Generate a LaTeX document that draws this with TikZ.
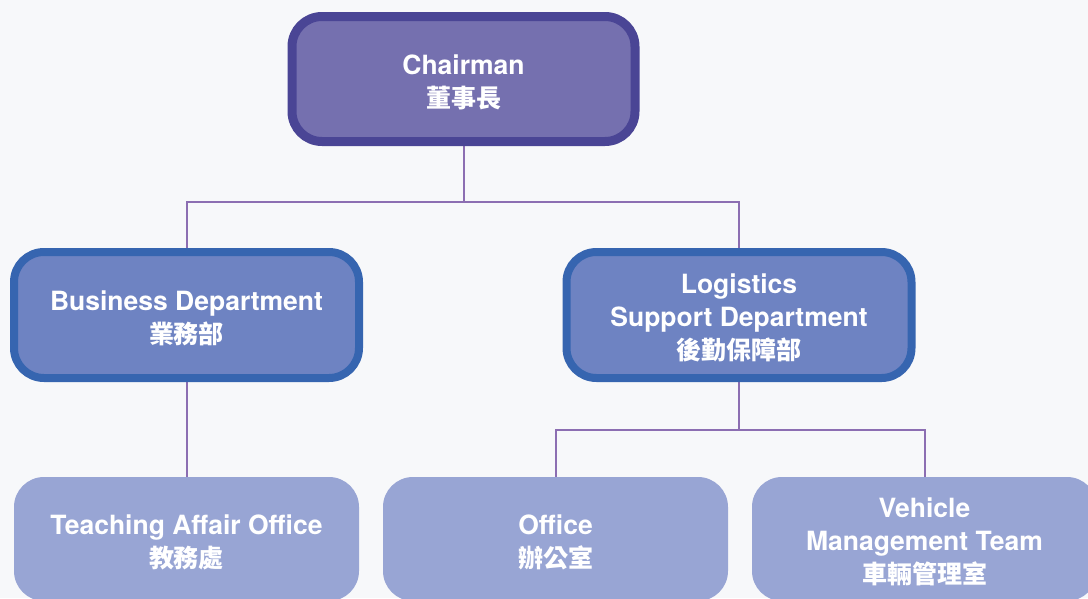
\documentclass[tikz,border=0pt]{standalone}
\usepackage{fontspec}
\setmainfont{TeX Gyre Heros}
\newfontfamily\cjk{Noto Sans CJK TC}
\pgfdeclarelayer{bg}
\pgfsetlayers{bg,main}
\definecolor{bgc}{RGB}{247,248,250}
\definecolor{topfill}{RGB}{117,112,175}
\definecolor{topdraw}{RGB}{74,69,149}
\definecolor{midfill}{RGB}{110,131,194}
\definecolor{middraw}{RGB}{54,101,176}
\definecolor{lowfill}{RGB}{152,165,212}
\definecolor{conncol}{RGB}{140,110,178}
\tikzset{
  box/.style={rounded corners=30pt, align=center, text=white, inner sep=0pt,
    font=\fontsize{26.5}{33}\selectfont\bfseries},
  topbox/.style={box, fill=topfill, draw=topdraw, line width=9pt, minimum width=343pt, minimum height=125pt},
  midbox/.style={box, fill=midfill, draw=middraw, line width=8pt, minimum width=345pt, minimum height=126pt},
  lowbox/.style={box, fill=lowfill, minimum width=345pt, minimum height=124pt},
  conn/.style={draw=conncol, line width=2pt}
}
\newcommand{\cjt}[1]{{\cjk\bfseries\fontsize{25}{33}\selectfont #1}}
\newcommand{\lbl}[1]{\raisebox{-5pt}[\height][\depth]{\begin{tabular}{@{}c@{}}#1\end{tabular}}}
\begin{document}
\begin{tikzpicture}[x=1pt,y=-1pt]
\useasboundingbox (0,0) rectangle (1088,598);
\clip (0,0) rectangle (1088,598);
\begin{pgfonlayer}{bg}
\fill[bgc] (0,0) rectangle (1088,598);
\end{pgfonlayer}
\node[topbox] (chair) at (463.5,79) {\lbl{Chairman\\\cjt{董事長}}};
\node[midbox] (bus) at (186.5,315) {\lbl{Business Department\\\cjt{業務部}}};
\node[midbox] (log) at (739,315) {\lbl{Logistics\\Support Department\\\cjt{後勤保障部}}};
\node[lowbox] (teach) at (186.5,539) {\lbl{Teaching Affair Office\\\cjt{教務處}}};
\node[lowbox] (off) at (555.5,539) {\lbl{Office\\\cjt{辦公室}}};
\node[lowbox] (veh) at (924.5,539) {\lbl{Vehicle\\Management Team\\\cjt{車輛管理室}}};
\begin{pgfonlayer}{bg}
\draw[conn] (chair.south) -- ++(0,56) -| (bus.north);
\draw[conn] (chair.south) -- ++(0,56) -| (log.north);
\draw[conn] (bus.south) -- (teach.north);
\draw[conn] (log.south) -- ++(0,48) -| (off.north);
\draw[conn] (log.south) -- ++(0,48) -| (veh.north);
\end{pgfonlayer}
\end{tikzpicture}
\end{document}
